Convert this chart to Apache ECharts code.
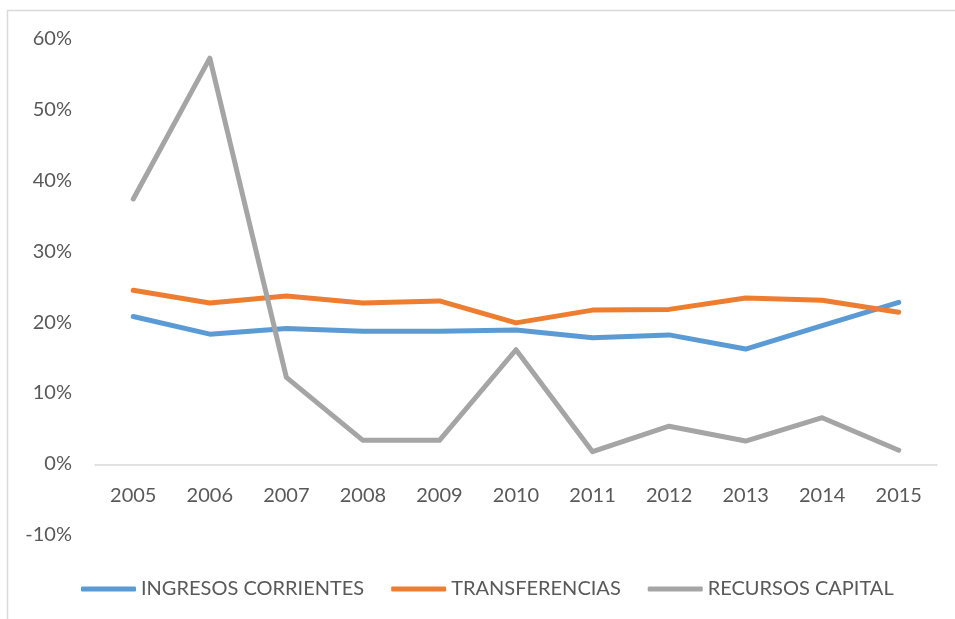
<!DOCTYPE html>
<html>
<head>
<meta charset="utf-8">
<script src="https://cdn.jsdelivr.net/npm/echarts@6/dist/echarts.min.js"></script>
<style>
  html, body { margin: 0; padding: 0; background: #fff; }
  #chart { width: 955px; height: 619px; }
</style>
</head>
<body>
<div id="chart"></div>
<script>
const years = ['2005', '2006', '2007', '2008', '2009', '2010', '2011', '2012', '2013', '2014', '2015']
const seriesNames = ['INGRESOS CORRIENTES', 'TRANSFERENCIAS', 'RECURSOS CAPITAL']
// percent values
const ingresosCorrientes = [20.8, 18.3, 19.1, 18.7, 18.7, 18.9, 17.8, 18.2, 16.2, 19.5, 22.8]
const transferencias = [24.5, 22.7, 23.7, 22.7, 23.0, 19.9, 21.7, 21.8, 23.4, 23.1, 21.4]
const recursosCapital = [37.4, 57.3, 12.2, 3.3, 3.3, 16.1, 1.7, 5.3, 3.2, 6.5, 1.9]
const colors = ['#5B9BD5', '#ED7D31', '#A5A5A5']

const chart = echarts.init(document.getElementById('chart'))
const font = 'Lato'
const textColor = '#595959'

const mkLine = (name, data, color) => ({
  name,
  type: 'line',
  data,
  symbol: 'none',
  color,
  lineStyle: { width: 5, color, cap: 'round', join: 'round' }
})

const option = {
  animation: false,
  backgroundColor: '#fff',
  graphic: [
    {
      type: 'rect',
      shape: { x: 7.5, y: 10.5, width: 1000, height: 700 },
      style: { fill: 'none', stroke: '#D9D9D9', lineWidth: 1.5 },
      silent: true
    }
  ],
  grid: { left: 95, right: 18, top: 39, bottom: 84.5 },
  legend: {
    left: 76,
    top: 574,
    itemWidth: 55,
    itemHeight: 5,
    itemGap: 27,
    icon: 'roundRect',
    textStyle: { fontFamily: font, fontSize: 20, color: textColor },
    data: seriesNames
  },
  xAxis: {
    type: 'category',
    data: years,
    boundaryGap: true,
    // the axis sits on the 0% line, one tick above the bottom of the grid
    offset: -70,
    axisLine: { onZero: false, lineStyle: { color: '#D9D9D9', width: 1.5 } },
    axisTick: { show: false },
    axisLabel: { margin: 21, fontFamily: font, fontSize: 20, color: textColor }
  },
  yAxis: {
    type: 'value',
    min: -10,
    max: 60,
    interval: 10,
    axisLine: { show: false },
    axisTick: { show: false },
    splitLine: { show: false },
    axisLabel: { margin: 23, fontFamily: font, fontSize: 20, color: textColor, formatter: '{value}%' }
  },
  series: [
    mkLine(seriesNames[0], ingresosCorrientes, colors[0]),
    mkLine(seriesNames[1], transferencias, colors[1]),
    mkLine(seriesNames[2], recursosCapital, colors[2])
  ]
}

chart.setOption(option)
</script>
</body>
</html>
